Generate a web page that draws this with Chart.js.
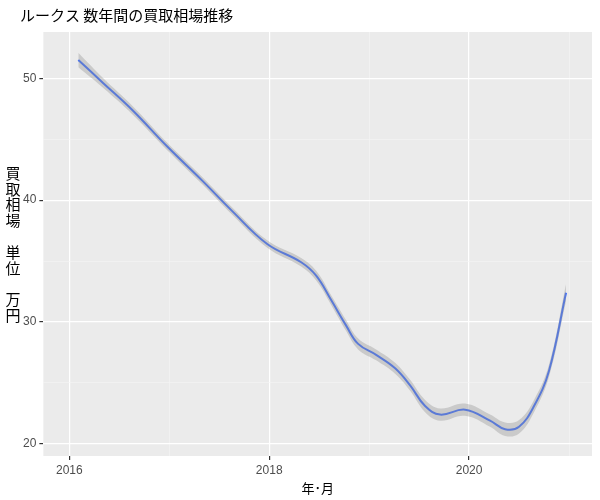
<!DOCTYPE html>
<html>
<head>
<meta charset="utf-8">
<script src="https://cdn.jsdelivr.net/npm/chart.js@4"></script>
<style>
  body { margin: 0; background: #fff; }
  #wrap { width: 600px; height: 500px; }
</style>
</head>
<body>
<div id="wrap"><canvas id="c"></canvas></div>
<script>
const titleText = 'ルークス 数年間の買取相場推移';
const xTitle = '年･月';
const yTitleLines = ['買', '取', '相', '場', '', '単', '位', '', '万', '円'];

const years = [2016.09, 2016.34, 2016.63, 2016.98, 2017.33, 2017.63, 2017.98, 2018.32, 2018.47, 2018.62,
  2018.77, 2018.89, 2019.07, 2019.26, 2019.41, 2019.56, 2019.71, 2019.96, 2020.21, 2020.36,
  2020.5, 2020.65, 2020.8, 2020.97];
const prices = [51.5, 49.6, 47.4, 44.4, 41.6, 39.1, 36.4, 34.9, 33.8, 31.8,
  29.7, 28.2, 27.3, 26.2, 24.8, 23.1, 22.4, 22.8, 21.9, 21.2,
  21.4, 23.1, 26.0, 32.4];
const bandHalf = [0.6, 0.4, 0.35, 0.3, 0.3, 0.3, 0.3, 0.35, 0.4, 0.4,
  0.45, 0.45, 0.45, 0.45, 0.45, 0.5, 0.5, 0.5, 0.5, 0.55,
  0.55, 0.5, 0.5, 0.7];

const lower = years.map((x, i) => ({ x, y: prices[i] - bandHalf[i] }));
const upper = years.map((x, i) => ({ x, y: prices[i] + bandHalf[i] }));
const line = years.map((x, i) => ({ x, y: prices[i] }));

// ggplot風の縦書きy軸タイトル
const yTitlePlugin = {
  id: 'yTitle',
  afterDraw(chart) {
    const ctx = chart.ctx;
    ctx.save();
    ctx.font = '15px "Noto Sans CJK JP"';
    ctx.fillStyle = '#000';
    ctx.textAlign = 'center';
    ctx.textBaseline = 'middle';
    yTitleLines.forEach((ch, i) => ctx.fillText(ch, 13, 173 + i * 15.8));
    ctx.restore();
  }
};

const bgPlugin = {
  id: 'panelBg',
  beforeDraw(chart) {
    const { ctx, chartArea: a } = chart;
    ctx.save();
    ctx.fillStyle = '#EBEBEB';
    ctx.fillRect(a.left, a.top, a.right - a.left, a.bottom - a.top);
    ctx.restore();
  }
};

new Chart(document.getElementById('c'), {
  type: 'line',
  data: {
    datasets: [
      { data: lower, borderWidth: 0, pointRadius: 0, tension: 0.4, fill: false },
      { data: upper, borderWidth: 0, pointRadius: 0, tension: 0.4, fill: '-1', backgroundColor: 'rgba(153,153,153,0.4)' },
      { data: line, borderColor: '#3366FF', borderWidth: 2, pointRadius: 0, tension: 0.4, fill: false }
    ]
  },
  options: {
    responsive: true,
    maintainAspectRatio: false,
    animation: false,
    layout: { padding: { left: 20, right: 8, top: 4, bottom: 4 } },
    plugins: {
      legend: { display: false },
      tooltip: { enabled: false },
      title: {
        display: true, text: titleText, align: 'start', color: '#000',
        font: { family: '"Noto Sans CJK JP"', size: 15, weight: 'normal' },
        padding: { top: 2, bottom: 8 }
      }
    },
    scales: {
      x: {
        type: 'linear', min: 2015.74, max: 2021.23,
        afterBuildTicks: s => { s.ticks = [2016, 2017, 2018, 2019, 2020, 2021].map(v => ({ value: v })); },
        ticks: {
          color: '#4D4D4D', font: { family: 'Liberation Sans', size: 12 },
          callback: v => (v % 2 === 0 ? String(v) : '')
        },
        grid: {
          color: c => (c.tick && c.tick.value % 2 === 0 ? '#FFFFFF' : '#F5F5F5'),
          lineWidth: c => (c.tick && c.tick.value % 2 === 0 ? 1.2 : 0.6),
          tickColor: c => (c.tick && c.tick.value % 2 === 0 ? '#333' : 'rgba(0,0,0,0)'),
          tickLength: 4
        },
        border: { display: false },
        title: { display: true, text: xTitle, color: '#000', font: { family: '"Noto Sans CJK JP"', size: 13 }, padding: 0 }
      },
      y: {
        min: 19.0, max: 53.8,
        afterBuildTicks: s => { s.ticks = [20, 25, 30, 35, 40, 45, 50].map(v => ({ value: v })); },
        ticks: {
          color: '#4D4D4D', font: { family: 'Liberation Sans', size: 12 },
          callback: v => (v % 10 === 0 ? String(v) : '')
        },
        grid: {
          color: c => (c.tick && c.tick.value % 10 === 0 ? '#FFFFFF' : '#F5F5F5'),
          lineWidth: c => (c.tick && c.tick.value % 10 === 0 ? 1.2 : 0.6),
          tickColor: c => (c.tick && c.tick.value % 10 === 0 ? '#333' : 'rgba(0,0,0,0)'),
          tickLength: 4
        },
        border: { display: false }
      }
    }
  },
  plugins: [bgPlugin, yTitlePlugin]
});
</script>
</body>
</html>
